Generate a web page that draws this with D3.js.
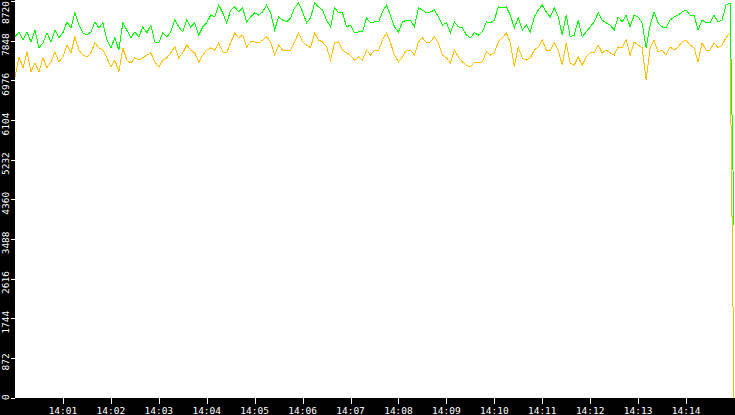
<!DOCTYPE html>
<html>
<head>
<meta charset="utf-8">
<script src="https://cdn.jsdelivr.net/npm/d3@7"></script>
<style>
  html, body { margin: 0; padding: 0; background: #fff; overflow: hidden; }
  svg { display: block; }
</style>
</head>
<body>
<div id="chart"></div>
<script>
const W = 735, H = 415;
const margin = {top: 0, right: 0, bottom: 17, left: 15};

// samples every 5 s from 14:00:00, last point at 14:15:00
const stepSeconds = 5;
const startTime = new Date(2000, 0, 1, 14, 0, 0);

const greenValues = [
  7930,8040,7860,8040,7820,8080,7690,7800,8020,7820,8080,7910,8020,8260,8130,8460,8190,8020,7970,8040,8260,8130,8240,7860,7690,7910,7640,8240,8080,7910,
  8040,7930,8150,8020,8190,7820,7800,8020,7930,8040,8300,8150,8040,8300,8150,8240,7970,8150,8240,8410,8370,8630,8460,8240,8520,8590,8480,8570,8260,8370,
  8460,8410,8480,8630,8460,8080,8370,8300,8260,8350,8570,8680,8480,8240,8350,8680,8590,8520,8300,8150,8570,8460,8460,8150,8190,8020,8040,8040,8350,8240,
  8260,8260,8480,8630,8410,8150,8040,8260,8300,8300,8150,8570,8520,8460,8480,8520,8370,8190,8240,8020,8260,8150,8130,7970,7910,8020,7970,8040,8260,8240,
  8300,8590,8570,8590,8410,8130,8350,8080,8190,8040,8370,8520,8630,8480,8370,8570,8370,7970,8410,7930,7970,8300,7930,8040,8150,8260,8460,8300,8240,8190,
  8080,8370,8260,8410,8150,8410,8370,8240,7690,8190,8480,8240,8150,8130,8300,8370,8410,8480,8520,8410,8410,8080,8300,8240,8240,8410,8260,8300,8630,8680,
  3790
];

const orangeValues = [
  7050,7490,7250,7600,7160,7360,7160,7470,7250,7380,7600,7380,7490,7750,7580,7930,7640,7530,7490,7580,7800,7690,7640,7470,7270,7420,7160,7690,7420,7360,
  7470,7420,7470,7530,7580,7380,7270,7420,7470,7580,7710,7470,7580,7750,7640,7580,7380,7530,7640,7690,7640,7800,7600,7580,7800,8020,7910,7970,7710,7820,
  7820,7800,7860,7930,7820,7530,7750,7640,7640,7640,7820,8020,7820,7750,7690,8020,7860,7820,7710,7420,7800,7820,7640,7580,7530,7420,7490,7420,7640,7530,
  7640,7640,7860,8020,7800,7530,7380,7490,7640,7640,7530,7820,7910,7800,7820,7930,7800,7530,7470,7360,7640,7490,7380,7310,7270,7360,7360,7380,7600,7530,
  7580,7820,7910,8020,7800,7270,7710,7470,7420,7470,7640,7710,7860,7640,7640,7800,7640,7310,7800,7360,7310,7490,7310,7490,7580,7580,7750,7580,7640,7580,
  7530,7710,7690,7860,7530,7820,7750,7690,6990,7690,7860,7600,7640,7530,7710,7640,7710,7820,7860,7750,7690,7380,7800,7640,7640,7800,7690,7750,7910,8020,
  0
];

const yTickValues = [0, 872, 1744, 2616, 3488, 4360, 5232, 6104, 6976, 7848, 8720];
const xTickLabels = ["14:01","14:02","14:03","14:04","14:05","14:06","14:07","14:08","14:09","14:10","14:11","14:12","14:13","14:14"];

const timeAt = i => new Date(startTime.getTime() + i * stepSeconds * 1000);
const greenData = greenValues.map((v, i) => ({t: timeAt(i), v: v}));
const orangeData = orangeValues.map((v, i) => ({t: timeAt(i), v: v}));

const x = d3.scaleTime()
  .domain([startTime, new Date(startTime.getTime() + 15 * 60 * 1000)])
  .range([margin.left, W - margin.right - 1]);

const y = d3.scaleLinear()
  .domain([0, 8720])
  .range([H - margin.bottom - 0.5, 1]);

const svg = d3.select("#chart").append("svg")
  .attr("width", W)
  .attr("height", H);

// black axis strips
svg.append("rect")
  .attr("x", 0).attr("y", 0)
  .attr("width", margin.left).attr("height", H)
  .attr("fill", "#000");

svg.append("rect")
  .attr("x", 0).attr("y", H - margin.bottom)
  .attr("width", W).attr("height", margin.bottom)
  .attr("fill", "#000");

const line = d3.line()
  .x(d => x(d.t))
  .y(d => y(d.v));

svg.append("path")
  .datum(orangeData)
  .attr("fill", "none")
  .attr("stroke", "#ffc000")
  .attr("stroke-width", 1)
  .attr("shape-rendering", "crispEdges")
  .attr("d", line);

svg.append("path")
  .datum(greenData)
  .attr("fill", "none")
  .attr("stroke", "#00ff00")
  .attr("stroke-width", 1)
  .attr("shape-rendering", "crispEdges")
  .attr("d", line);

// y axis: short white ticks and rotated labels
const yAxis = svg.append("g").attr("class", "y-axis");

yAxis.selectAll("line")
  .data(yTickValues)
  .enter().append("line")
  .attr("x1", 11).attr("x2", margin.left)
  .attr("y1", d => Math.round(y(d)) + 0.5)
  .attr("y2", d => Math.round(y(d)) + 0.5)
  .attr("stroke", "#fff")
  .attr("stroke-width", 1);

const labelFont = 9.5;
const charW = labelFont * 0.602;

yAxis.selectAll("text")
  .data(yTickValues)
  .enter().append("text")
  .attr("transform", d => {
    const half = String(d).length * charW / 2;
    let cy = y(d) + 4;
    cy = Math.max(1 + half, Math.min(400 - half, cy));
    return "translate(9," + cy + ") rotate(-90)";
  })
  .attr("text-anchor", "middle")
  .attr("fill", "#fff")
  .style("font-family", "'DejaVu Sans Mono', monospace")
  .style("font-size", labelFont + "px")
  .text(d => d);

// x axis
const xTickTimes = xTickLabels.map((s, i) => new Date(2000, 0, 1, 14, i + 1, 0));
const xAxis = svg.append("g").attr("class", "x-axis");

xAxis.selectAll("line")
  .data(xTickTimes)
  .enter().append("line")
  .attr("x1", d => Math.round(x(d)) + 0.5)
  .attr("x2", d => Math.round(x(d)) + 0.5)
  .attr("y1", H - margin.bottom)
  .attr("y2", H - margin.bottom + 6)
  .attr("stroke", "#fff")
  .attr("stroke-width", 1);

xAxis.selectAll("text")
  .data(xTickTimes)
  .enter().append("text")
  .attr("x", d => x(d))
  .attr("y", 413.5)
  .attr("text-anchor", "middle")
  .attr("fill", "#fff")
  .style("font-family", "'DejaVu Sans Mono', monospace")
  .style("font-size", labelFont + "px")
  .text((d, i) => xTickLabels[i]);
</script>
</body>
</html>
